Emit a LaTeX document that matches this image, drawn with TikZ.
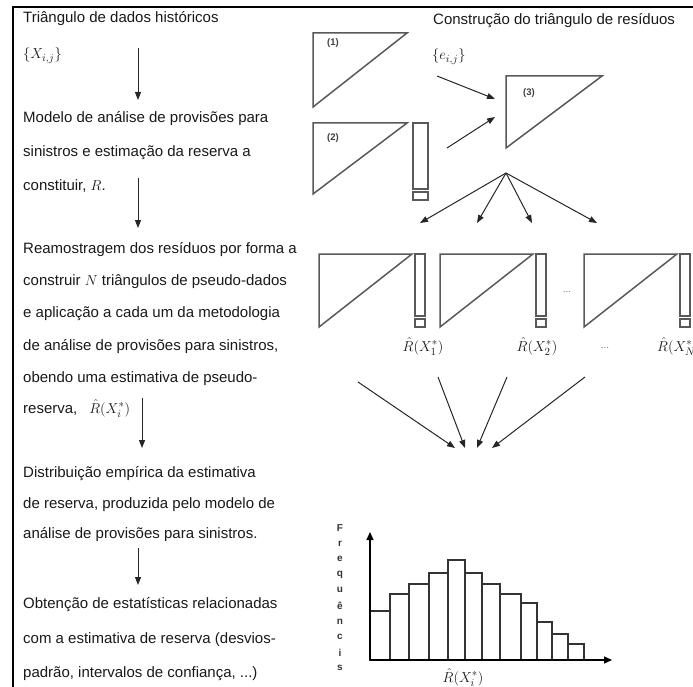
\documentclass[tikz,border=0pt]{standalone}
\usepackage{fontspec}
\setmainfont{Liberation Sans}
\usepackage{amsmath}
\usetikzlibrary{arrows.meta}

\begin{document}
\begin{tikzpicture}[
  x=1pt, y=-1pt,
  font=\fontsize{15}{18}\selectfont,
  txt/.style={anchor=base west, inner sep=0pt, text=black!90},
  lab/.style={inner sep=0pt, font=\fontsize{9.5}{11}\selectfont\bfseries, text=black!75},
  dts/.style={inner sep=0pt, font=\fontsize{10}{12}\selectfont, text=black!55},
  vlet/.style={inner sep=0pt, font=\fontsize{10}{12}\selectfont\bfseries, text=black!80},
  tri/.style={draw=black!65, line width=1.5pt},
  col/.style={draw=black!65, line width=1.2pt},
  bar/.style={draw=black!80, line width=1.3pt},
  arr/.style={-{Triangle[length=8pt, width=6pt]}, draw=black!85, line width=1pt},
  axs/.style={-{Triangle[length=8pt, width=7pt]}, draw=black, line width=1.2pt},
  frm/.style={draw=black, line width=1.8pt},
]
\useasboundingbox (0,0) rectangle (693,687);
\draw[frm] (693,7) -- (13,7) -- (13,687);

%% ---- left column: the steps, one line per node ----
\foreach \yb/\t [count=\k] in {
    23/{Triângulo de dados históricos},
    59/{$\{X_{i,j}\}$},
    123/{Modelo de análise de provisões para},
    157/{sinistros e estimação da reserva a},
    190/{constituir, $R$.},
    253/{Reamostragem dos resíduos por forma a},
    285/{construir $N$ triângulos de pseudo-dados},
    317/{e aplicação a cada um da metodologia},
    350/{de análise de provisões para sinistros,},
    382/{obendo uma estimativa de pseudo-},
    413/{reserva,\hspace{12pt}$\hat R(X_i^*)$},
    477/{Distribuição empírica da estimativa},
    508/{de reserva, produzida pelo modelo de},
    538/{análise de provisões para sinistros.},
    608/{Obtenção de estatísticas relacionadas},
    643/{com a estimativa de reserva (desvios-},
    677/{padrão, intervalos de confiança, ...)}}
  \node[txt] (l\k) at (23,\yb) {\t};

%% arrows between the steps
\foreach \xa/\ya/\xb/\yb [count=\k] in {
    138/48/138/100, 138/178/138/228, 142/398/142/448, 138/548/138/585} {
  \coordinate (ls\k) at (\xa,\ya);
  \coordinate (le\k) at (\xb,\yb);
  \draw[arr] (ls\k) -- (le\k);
}

%% ---- right column, top: residual triangle ----
\node[txt] (rtit) at (433,25) {Construção do triângulo de resíduos};
\node[txt] (eij) at (432,60) {$\{e_{i,j}\}$};

\draw[tri] (313,33) -- (407,33) -- (313,107) -- cycle;
\node[lab] (t1) at (333,43) {(1)};
\draw[tri] (313,123) -- (407,123) -- (313,194) -- cycle;
\node[lab] (t2) at (333,138) {(2)};
\draw[col] (413,123) rectangle (428,189);
\draw[col] (413,192) rectangle (428,200);
\draw[tri] (506,76) -- (602,76) -- (506,148) -- cycle;
\node[lab] (t3) at (529,93) {(3)};

\coordinate (in1) at (437,76);  \coordinate (to1) at (495,99);
\coordinate (in2) at (447,148); \coordinate (to2) at (495,117);
\draw[arr] (in1) -- (to1);
\draw[arr] (in2) -- (to2);

%% fan out to the pseudo-data triangles
\coordinate (apex) at (506,173);
\foreach \xb [count=\k] in {420,477,532,597} {
  \coordinate (fan\k) at (\xb,223);
  \draw[arr] (apex) -- (fan\k);
}

%% ---- pseudo-data triangles ----
\foreach \xl in {319,440,584} {
  \draw[tri] (\xl,254) -- (\xl+93,254) -- (\xl,327) -- cycle;
  \draw[col] (\xl+96,254) rectangle (\xl+106,316);
  \draw[col] (\xl+96,319) rectangle (\xl+106,327);
}
\node[dts] (dd1) at (567,292) {...};
\node[txt, anchor=base] (r1) at (423,351) {$\hat R(X_1^*)$};
\node[txt, anchor=base] (r2) at (537,351) {$\hat R(X_2^*)$};
\node[dts] (dd2) at (605,348) {...};
\begin{scope}
  \clip (0,0) rectangle (693,687);
  \node[txt] (rn) at (657,351) {$\hat R(X_N^*)$};
\end{scope}

%% converging arrows
\foreach \xa/\ya/\xb [count=\k] in {358/382/455, 438/377/465, 507/377/477, 585/377/492} {
  \coordinate (cs\k) at (\xa,\ya);
  \coordinate (ce\k) at (\xb,448);
  \draw[arr] (cs\k) -- (ce\k);
}

%% ---- histogram ----
\foreach \xa/\xb/\yt in {370/390/611, 390/409/594, 409/429/584, 429/448/573,
    448/465/560, 465/482/573, 482/500/584, 500/521/594, 521/537/603,
    537/552/622, 552/568/634, 568/584/644}
  \draw[bar] (\xa,660) rectangle (\xb,\yt);
\coordinate (org) at (370,660);
\coordinate (ytop) at (370,532);
\coordinate (xend) at (612,660);
\draw[axs] (org) -- (ytop);
\draw[axs] (org) -- (xend);
\foreach \ch [count=\k from 0] in {F,r,e,q,u,ê,n,c,i,s}
  \node[vlet] (v\k) at (340,528+\k*15.56) {\ch};
\node[txt, anchor=base] (hx) at (463,682) {$\hat R(X_i^*)$};
\end{tikzpicture}
\end{document}
